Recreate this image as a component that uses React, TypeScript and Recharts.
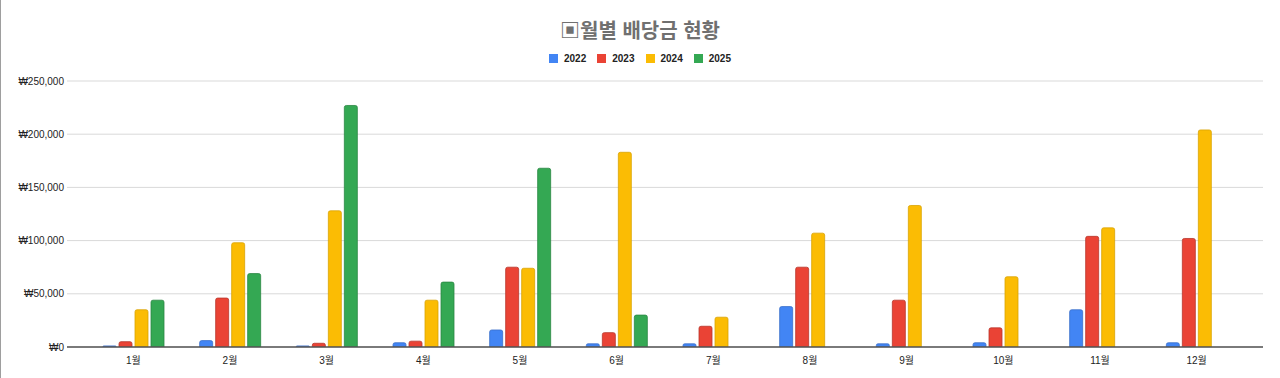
import React from "react";
import { BarChart, Bar, XAxis, YAxis, CartesianGrid } from "recharts";

const months = ["1월", "2월", "3월", "4월", "5월", "6월", "7월", "8월", "9월", "10월", "11월", "12월"];
const v2022 = [1000, 6000, 1000, 4000, 16000, 3000, 3000, 38000, 3000, 4000, 35000, 4000];
const v2023 = [5000, 46000, 3500, 5500, 75000, 13500, 19500, 75000, 44000, 18000, 104000, 102000];
const v2024 = [35000, 98000, 128000, 44000, 74000, 183000, 28000, 107000, 133000, 66000, 112000, 204000];
const v2025: (number | null)[] = [44000, 69000, 227000, 61000, 168000, 30000, null, null, null, null, null, null];
const yTicks = [0, 50000, 100000, 150000, 200000, 250000];

const series = [
  { key: "2022", color: "#4285F4", stroke: "#3a6fc9" },
  { key: "2023", color: "#EA4335", stroke: "#b8362b" },
  { key: "2024", color: "#FBBC04", stroke: "#d9a304" },
  { key: "2025", color: "#34A853", stroke: "#2a8743" },
];

const data = months.map((m, i) => ({
  month: m,
  "2022": v2022[i],
  "2023": v2023[i],
  "2024": v2024[i],
  "2025": v2025[i],
}));

const FONT = "Arial, 'Liberation Sans', 'Noto Sans CJK KR', sans-serif";

const fmt = (v: number) => "₩" + v.toLocaleString("en-US");

export default function App() {
  return (
    <div style={{ position: "absolute", left: 0, top: 0, width: 1280, height: 378, background: "#fff", fontFamily: FONT }}>
      <div style={{ position: "absolute", left: 0, top: 0, width: 1, height: 378, background: "#9e9e9e" }} />
      <div
        style={{
          position: "absolute",
          top: 15,
          left: 0,
          width: 1280,
          textAlign: "center",
          fontSize: 20,
          fontWeight: "bold",
          color: "#707070",
          fontFamily: FONT,
        }}
      >
        {"▣월별 배당금 현황"}
      </div>
      <div
        style={{
          position: "absolute",
          top: 53,
          left: 0,
          width: 1280,
          display: "flex",
          justifyContent: "center",
          fontFamily: FONT,
          fontSize: 10,
          fontWeight: "bold",
          color: "#222",
        }}
      >
        {series.map((s, i) => (
          <div key={s.key} style={{ display: "flex", alignItems: "center", marginRight: i < series.length - 1 ? 11 : 0 }}>
            <span style={{ display: "inline-block", width: 9, height: 9, background: s.color, marginRight: 6 }} />
            <span>{s.key}</span>
          </div>
        ))}
      </div>
      <BarChart
        width={1280}
        height={378}
        data={data}
        margin={{ top: 81, right: 17, bottom: 6, left: 0 }}
        barCategoryGap={18}
        barGap={3}
      >
        <CartesianGrid vertical={false} stroke="#d9d9d9" />
        <XAxis
          dataKey="month"
          padding={{ left: 18, right: 18 }}
          tickLine={false}
          axisLine={{ stroke: "#555", strokeWidth: 1.5 }}
          tick={{ fontSize: 10, fill: "#222", fontFamily: FONT }}
          tickMargin={4}
          height={25}
          interval={0}
        />
        <YAxis
          domain={[0, 250000]}
          ticks={yTicks}
          tickFormatter={fmt}
          width={67}
          tickLine={false}
          axisLine={false}
          tickSize={0}
          tickMargin={3}
          tick={{ fontSize: 10, fill: "#222", fontFamily: FONT }}
          allowDataOverflow
        />
        {series.map((s) => (
          <Bar
            key={s.key}
            dataKey={s.key}
            fill={s.color}
            stroke={s.stroke}
            strokeWidth={0.8}
            radius={[2, 2, 0, 0]}
            isAnimationActive={false}
          />
        ))}
      </BarChart>
    </div>
  );
}
